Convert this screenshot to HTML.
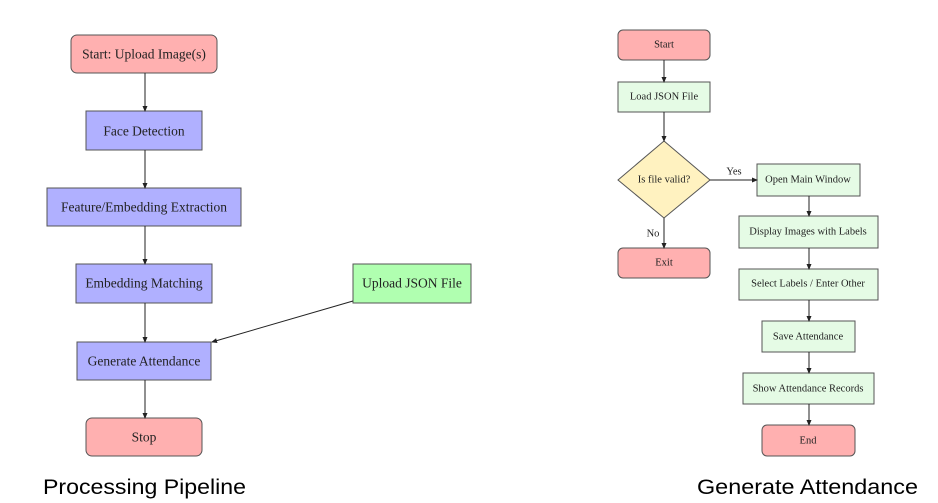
<!DOCTYPE html>
<html><head><meta charset="utf-8"><style>
html,body{margin:0;padding:0;background:#fff;}
svg{display:block;}
.t{font-family:"Liberation Serif",serif;fill:#222;text-anchor:middle;dominant-baseline:central;}
.c{font-family:"Liberation Sans",sans-serif;fill:#000;font-size:21px;}
</style></head><body>
<svg width="938" height="503" viewBox="0 0 938 503" xmlns="http://www.w3.org/2000/svg">
<defs><marker id="a" markerWidth="6" markerHeight="6" refX="5" refY="3" orient="auto" markerUnits="userSpaceOnUse"><path d="M0,0.5 L6,3 L0,5.5 Z" fill="#222"/></marker></defs>
<g stroke="#555" stroke-width="1">
<rect x="71" y="35" width="146" height="38" rx="6" fill="#ffb0b0"/>
<rect x="86" y="111" width="116" height="39" fill="#b0b0ff"/>
<rect x="47" y="188" width="194" height="38" fill="#b0b0ff"/>
<rect x="76" y="264" width="136" height="39" fill="#b0b0ff"/>
<rect x="77" y="342" width="134" height="38" fill="#b0b0ff"/>
<rect x="86" y="418" width="116" height="38" rx="6" fill="#ffb0b0"/>
<rect x="353" y="264" width="118" height="39" fill="#b0ffb0"/>

<rect x="618" y="30" width="92" height="30" rx="5" fill="#ffb0b0"/>
<rect x="618" y="82" width="92" height="30" fill="#e5fbe5"/>
<polygon points="664,141 710,180 664,218 618,180" fill="#fff2c0"/>
<rect x="618" y="248" width="92" height="30" rx="5" fill="#ffb0b0"/>
<rect x="757" y="164" width="103" height="32" fill="#e5fbe5"/>
<rect x="739" y="216" width="139" height="32" fill="#e5fbe5"/>
<rect x="739" y="269" width="139" height="31" fill="#e5fbe5"/>
<rect x="762" y="321" width="93" height="31" fill="#e5fbe5"/>
<rect x="743" y="373" width="131" height="31" fill="#e5fbe5"/>
<rect x="762" y="425" width="93" height="31" rx="5" fill="#ffb0b0"/>
</g>
<g stroke="#222" stroke-width="1" fill="none" marker-end="url(#a)">
<line x1="145" y1="73" x2="145" y2="111"/>
<line x1="145" y1="150" x2="145" y2="188"/>
<line x1="145" y1="226" x2="145" y2="264"/>
<line x1="145" y1="303" x2="145" y2="342"/>
<line x1="145" y1="380" x2="145" y2="418"/>
<line x1="353" y1="301" x2="212" y2="342"/>
<line x1="664" y1="60" x2="664" y2="82"/>
<line x1="664" y1="112" x2="664" y2="141"/>
<line x1="664" y1="218" x2="664" y2="248"/>
<line x1="710" y1="180" x2="757" y2="180"/>
<line x1="809" y1="196" x2="809" y2="216"/>
<line x1="809" y1="248" x2="809" y2="269"/>
<line x1="809" y1="300" x2="809" y2="321"/>
<line x1="809" y1="352" x2="809" y2="373"/>
<line x1="809" y1="404" x2="809" y2="425"/>
</g>
<g class="t" font-size="13.5">
<text x="144" y="54">Start: Upload Image(s)</text>
<text x="144" y="131">Face Detection</text>
<text x="144" y="207">Feature/Embedding Extraction</text>
<text x="144" y="283">Embedding Matching</text>
<text x="144" y="361">Generate Attendance</text>
<text x="144" y="437">Stop</text>
<text x="412" y="283">Upload JSON File</text>
</g>
<g class="t" font-size="10.5">
<text x="664" y="45">Start</text>
<text x="664" y="97">Load JSON File</text>
<text x="664" y="180">Is file valid?</text>
<text x="664" y="263">Exit</text>
<text x="808" y="180">Open Main Window</text>
<text x="808" y="232">Display Images with Labels</text>
<text x="808" y="284">Select Labels / Enter Other</text>
<text x="808" y="337">Save Attendance</text>
<text x="808" y="389">Show Attendance Records</text>
<text x="808" y="441">End</text>
<text x="734" y="172">Yes</text>
<text x="653" y="234">No</text>
</g>
<text class="c" x="43" y="494" textLength="203" lengthAdjust="spacingAndGlyphs">Processing  Pipeline</text>
<text class="c" x="697" y="494" textLength="221" lengthAdjust="spacingAndGlyphs">Generate Attendance</text>
</svg>
</body></html>
